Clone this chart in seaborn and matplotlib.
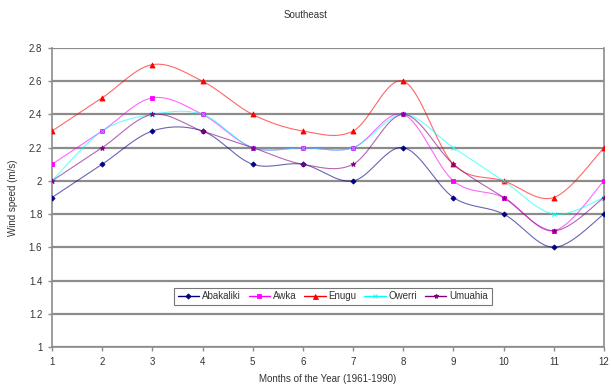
import numpy as np
import pandas as pd
import matplotlib
matplotlib.use("Agg")
import matplotlib.pyplot as plt
from matplotlib.lines import Line2D
import seaborn as sns

months = [1, 2, 3, 4, 5, 6, 7, 8, 9, 10, 11, 12]
abakaliki = [1.9, 2.1, 2.3, 2.3, 2.1, 2.1, 2.0, 2.2, 1.9, 1.8, 1.6, 1.8]
awka = [2.1, 2.3, 2.5, 2.4, 2.2, 2.2, 2.2, 2.4, 2.0, 1.9, 1.7, 2.0]
enugu = [2.3, 2.5, 2.7, 2.6, 2.4, 2.3, 2.3, 2.6, 2.1, 2.0, 1.9, 2.2]
owerri = [2.0, 2.3, 2.4, 2.4, 2.2, 2.2, 2.2, 2.4, 2.2, 2.0, 1.8, 1.9]
umuahia = [2.0, 2.2, 2.4, 2.3, 2.2, 2.1, 2.1, 2.4, 2.1, 1.9, 1.7, 1.9]

series_names = ["Abakaliki", "Awka", "Enugu", "Owerri", "Umuahia"]
series_vals = [abakaliki, awka, enugu, owerri, umuahia]
colors = ["#000080", "#FF00FF", "#FF0000", "#00FFFF", "#800080"]
markers = ["D", "s", "^", "x", "*"]
msizes = [2.6, 3.2, 3.6, 3.0, 3.6]


def smooth(x, y, n=30):
    """Excel-like smoothed curve (Catmull-Rom / cubic Bezier) through the points."""
    x = np.asarray(x, float)
    y = np.asarray(y, float)
    P = np.column_stack([x, y])
    out = []
    t = np.linspace(0, 1, n)
    for i in range(len(P) - 1):
        p0 = P[i - 1] if i > 0 else P[i]
        p1 = P[i]
        p2 = P[i + 1]
        p3 = P[i + 2] if i + 2 < len(P) else P[i + 1]
        c1 = p1 + (p2 - p0) / 6.0
        c2 = p2 - (p3 - p1) / 6.0
        seg = ((1 - t)[:, None] ** 3) * p1 + 3 * ((1 - t)[:, None] ** 2) * t[:, None] * c1 \
            + 3 * (1 - t)[:, None] * (t[:, None] ** 2) * c2 + (t[:, None] ** 3) * p2
        out.append(seg if i == 0 else seg[1:])
    s = np.vstack(out)
    return s[:, 0], s[:, 1]


sns.set_theme(style="white")
plt.rcParams["font.family"] = ["Liberation Sans", "DejaVu Sans"]

fig = plt.figure(figsize=(6.11, 3.87), dpi=100)
ax = fig.add_axes([52 / 611, 1 - 347 / 387, (604 - 52) / 611, (347 - 48) / 387])

for name, vals, c, m, ms in zip(series_names, series_vals, colors, markers, msizes):
    sx, sy = smooth(months, vals)
    df = pd.DataFrame({"x": sx, "y": sy})
    sns.lineplot(data=df, x="x", y="y", ax=ax, color=c, lw=0.8, alpha=0.6,
                 sort=False, estimator=None, zorder=3)
    pts = pd.DataFrame({"x": months, "y": vals})
    sns.scatterplot(data=pts, x="x", y="y", ax=ax, color=c, marker=m, s=ms ** 2,
                    edgecolor=c if m not in ("x",) else None, linewidth=0.6, zorder=4)

ax.set_xlim(1, 12)
ax.set_ylim(1, 2.8)
ax.set_xticks(months)
ax.set_yticks(np.arange(1.0, 2.81, 0.2))
ax.set_xticklabels([str(m) for m in months])
ax.set_yticklabels(["1", "1.2", "1.4", "1.6", "1.8", "2", "2.2", "2.4", "2.6", "2.8"])
ax.yaxis.grid(True, color="#8c8c8c", lw=1.6)
ax.set_axisbelow(True)
ax.spines["top"].set_visible(False)
for s in ["left", "right", "bottom"]:
    ax.spines[s].set_color("#8c8c8c")
    ax.spines[s].set_linewidth(1.2)
ax.tick_params(axis="both", labelsize=7, colors="#8c8c8c", labelcolor="#333333",
               direction="out", length=3, width=1, pad=4, bottom=True, left=True)
ax.set_xlabel("Months of the Year (1961-1990)", fontsize=7, color="#333333", labelpad=5)
ax.set_ylabel("Wind speed (m/s)", fontsize=7, color="#333333", labelpad=8)
fig.text(0.5, 1 - 15 / 387, "Southeast", ha="center", va="center", fontsize=7, color="#333333")

handles = [Line2D([0], [0], color=c, marker=m, markersize=ms, lw=1,
                  markeredgecolor=c, markeredgewidth=0.6)
           for c, m, ms in zip(colors, markers, msizes)]
leg = ax.legend(handles, series_names, loc="center", bbox_to_anchor=(0.509, 0.17),
                ncol=5, fontsize=7, frameon=True, fancybox=False, handlelength=2.2,
                handletextpad=0.3, columnspacing=0.8, borderpad=0.35)
leg.get_frame().set_edgecolor("#555555")
leg.get_frame().set_linewidth(0.8)
for t in leg.get_texts():
    t.set_color("#333333")

fig.savefig("out.png", dpi=100)
